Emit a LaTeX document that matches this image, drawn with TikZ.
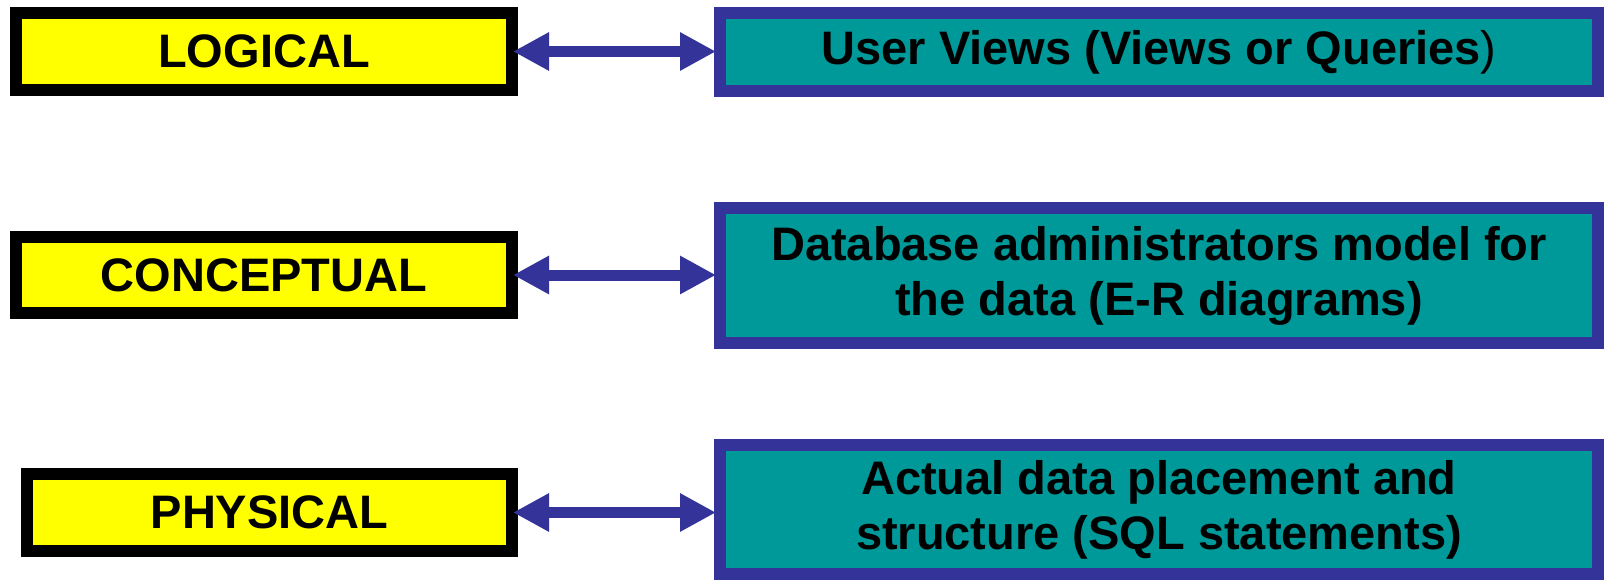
\documentclass[tikz,border=0pt]{standalone}
\usepackage{fontspec}
\setmainfont{Liberation Sans}
\usetikzlibrary{arrows.meta}
\definecolor{tealbox}{HTML}{009999}
\definecolor{navy}{HTML}{333399}
\definecolor{ybox}{HTML}{FFFF00}
\begin{document}
\begin{tikzpicture}[x=1pt,y=-1pt,
  txt/.style={font=\fontsize{47}{55}\selectfont\bfseries, text=black},
  lbox/.style={txt, draw=black, fill=ybox, line width=12pt, inner sep=0pt, align=center},
  rbox/.style={txt, draw=navy, fill=tealbox, line width=12pt, inner sep=0pt, align=center},
  arr/.style={draw=navy, line width=11pt,
    {Triangle[length=36pt,width=36pt]}-{Triangle[length=36pt,width=36pt]},
    shorten <=-5pt, shorten >=-2pt}]
\useasboundingbox (0,0) rectangle (1604,580);
\node[lbox, minimum width=496pt, minimum height=77pt] (log) at (264,51.5) {LOGICAL};
\node[lbox, minimum width=496pt, minimum height=76pt] (con) at (264,275) {CONCEPTUAL};
\node[lbox, minimum width=485pt, minimum height=77pt] (phy) at (269.5,512.5) {PHYSICAL};
\node[rbox, minimum width=878pt, minimum height=78pt] (uv) at (1159,52) {User Views (Views or Queries{\mdseries )}};
\node[rbox, minimum width=878pt, minimum height=135pt] (db) at (1159,275.5) {Database administrators model for\\the data (E-R diagrams)};
\node[rbox, minimum width=878pt, minimum height=129pt] (act) at (1159,509.5) {Actual data placement and\\structure (SQL statements)};
\draw[arr] (log.east) -- (log.east -| uv.west);
\draw[arr] (con.east) -- (con.east -| db.west);
\draw[arr] (phy.east) -- (phy.east -| act.west);
\end{tikzpicture}
\end{document}
